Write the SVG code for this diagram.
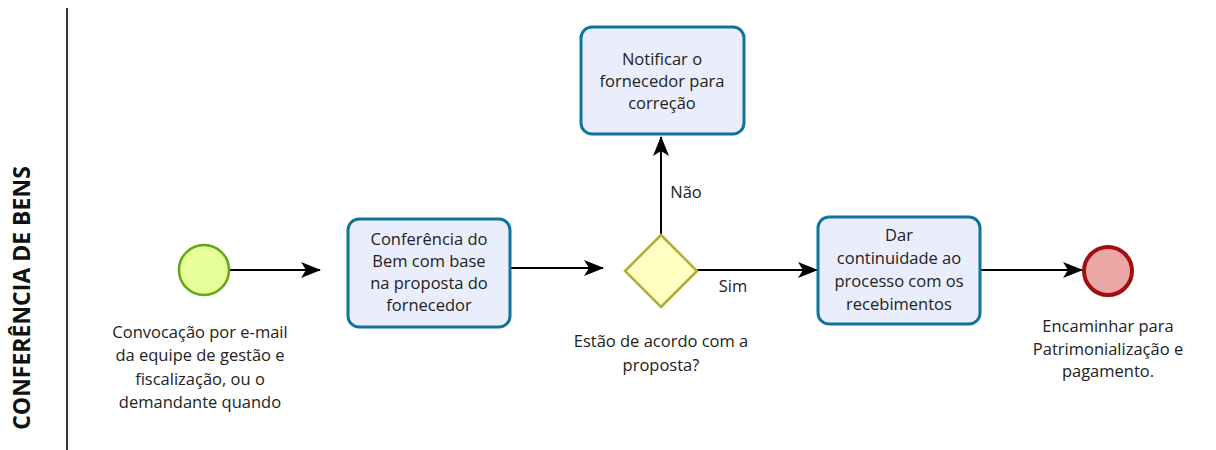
<svg xmlns="http://www.w3.org/2000/svg" width="1216" height="450" viewBox="0 0 1216 450">
<style>
text{font-family:"Open Sans","Noto Sans","DejaVu Sans",sans-serif;font-size:16.5px;fill:#222;text-anchor:middle}
.task{fill:#eaedfc;stroke:#10739e;stroke-width:3}
.conn{stroke:#000;stroke-width:2;fill:none;marker-end:url(#arr)}
</style>
<defs>
<marker id="arr" viewBox="0 0 20 20" refX="19" refY="10" markerWidth="20" markerHeight="20" markerUnits="userSpaceOnUse" orient="auto">
<path d="M0,2 L20,10 L0,18 L5,10 Z" fill="#000"/>
</marker>
</defs>
<rect width="1216" height="450" fill="#fff"/>
<g id="lane">
<line x1="67" y1="8" x2="67" y2="450" stroke="#333" stroke-width="2"/>
<text transform="translate(30,298) rotate(-90)" style="font-size:23px;font-weight:bold;fill:#111">CONFERÊNCIA DE BENS</text>
</g>
<g id="connectors">
<path class="conn" d="M230,270 L320,270"/>
<path class="conn" d="M510,268 L603,268"/>
<path class="conn" d="M661,235 L661,137"/>
<path class="conn" d="M697,270 L817,270"/>
<path class="conn" d="M980,270 L1082,270"/>
<text x="686" y="198">Não</text>
<text x="733" y="292">Sim</text>
</g>
<g id="start">
<circle cx="204" cy="270" r="25" fill="#e6ff97" stroke="#62a716" stroke-width="2.5"/>
<text x="200" y="338">Convocação por e-mail</text>
<text x="200" y="361">da equipe de gestão e</text>
<text x="200" y="385">fiscalização, ou o</text>
<text x="200" y="408">demandante quando</text>
</g>
<g id="task1">
<rect class="task" x="348" y="219" width="162" height="108" rx="11"/>
<text x="429" y="245">Conferência do</text>
<text x="429" y="267">Bem com base</text>
<text x="429" y="289">na proposta do</text>
<text x="429" y="311">fornecedor</text>
</g>
<g id="gateway">
<path d="M661,235 L697,271 L661,307 L625,271 Z" fill="#ffffc2" stroke="#aeae34" stroke-width="2.5"/>
<text x="661" y="347">Estão de acordo com a</text>
<text x="661" y="371">proposta?</text>
</g>
<g id="task2">
<rect class="task" x="581" y="27" width="163" height="107" rx="11"/>
<text x="662" y="65">Notificar o</text>
<text x="662" y="87">fornecedor para</text>
<text x="662" y="109">correção</text>
</g>
<g id="task3">
<rect class="task" x="818" y="217" width="162" height="107" rx="11"/>
<text x="899" y="241">Dar</text>
<text x="899" y="264">continuidade ao</text>
<text x="899" y="287">processo com os</text>
<text x="899" y="310">recebimentos</text>
</g>
<g id="end">
<circle cx="1108" cy="271" r="24" fill="#eba6a6" stroke="#a30f0f" stroke-width="4"/>
<text x="1108" y="332">Encaminhar para</text>
<text x="1108" y="355">Patrimonialização e</text>
<text x="1108" y="377">pagamento.</text>
</g>
</svg>
